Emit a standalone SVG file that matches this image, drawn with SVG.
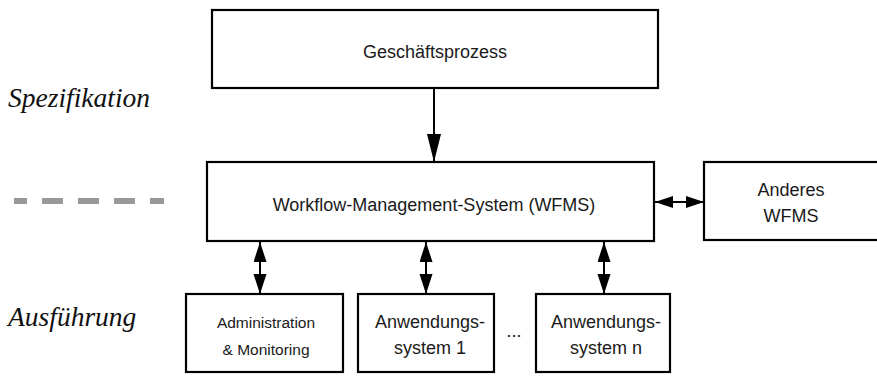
<svg xmlns="http://www.w3.org/2000/svg" width="877" height="377" viewBox="0 0 877 377">
<style>
.box{fill:#fff;stroke:#000;stroke-width:2.2}
.t{font-family:"Liberation Sans",Arial,sans-serif;font-size:18px;fill:#1a1a1a;text-anchor:middle}
.ts{font-size:15.5px}
.lbl{font-family:"Liberation Serif","Times New Roman",serif;font-style:italic;font-size:27.5px;fill:#111}
.c{stroke:#000;stroke-width:2;fill:none}
</style>
<defs>
<marker id="aBig" markerUnits="userSpaceOnUse" markerWidth="30" markerHeight="16" refX="28" refY="7" orient="auto"><path d="M0,0 L28,7 L0,14 z" fill="#000"/></marker>
<marker id="aMid" markerUnits="userSpaceOnUse" markerWidth="22" markerHeight="14" refX="20" refY="6.5" orient="auto-start-reverse"><path d="M0,0 L20,6.5 L0,13 z" fill="#000"/></marker>
<marker id="aSm" markerUnits="userSpaceOnUse" markerWidth="19" markerHeight="13" refX="18" refY="6" orient="auto-start-reverse"><path d="M0,0 L18,6 L0,12 z" fill="#000"/></marker>
</defs>
<rect width="877" height="377" fill="#fff"/>
<text class="lbl" x="8" y="107">Spezifikation</text>
<text class="lbl" x="8" y="326">Ausführung</text>
<line x1="14" y1="201" x2="164" y2="201" stroke="#999" stroke-width="6" stroke-dasharray="21 15" stroke-dashoffset="8"/>
<g id="connectors">
<line class="c" x1="434" y1="88" x2="434" y2="162" marker-end="url(#aBig)"/>
<line class="c" x1="655" y1="202" x2="704" y2="202" marker-start="url(#aSm)" marker-end="url(#aSm)"/>
<line class="c" x1="260" y1="242" x2="260" y2="294" marker-start="url(#aMid)" marker-end="url(#aMid)"/>
<line class="c" x1="426" y1="242" x2="426" y2="294" marker-start="url(#aMid)" marker-end="url(#aMid)"/>
<line class="c" x1="604" y1="242" x2="604" y2="294" marker-start="url(#aMid)" marker-end="url(#aMid)"/>
</g>
<g id="geschaeftsprozess">
<rect class="box" x="212" y="10" width="446" height="78"/>
<text class="t" x="435" y="58">Geschäftsprozess</text>
</g>
<g id="wfms">
<rect class="box" x="207" y="162" width="447" height="79"/>
<text class="t" x="434" y="211">Workflow-Management-System (WFMS)</text>
</g>
<g id="anderes-wfms">
<rect class="box" x="704" y="162" width="200" height="78"/>
<text class="t" x="791" y="196">Anderes</text>
<text class="t" x="791" y="222">WFMS</text>
</g>
<g id="admin">
<rect class="box" x="186" y="294" width="157" height="78"/>
<text class="t ts" x="266" y="328">Administration</text>
<text class="t ts" x="266" y="355">&amp; Monitoring</text>
</g>
<g id="anwendung1">
<rect class="box" x="358" y="294" width="136" height="78"/>
<text class="t" x="430" y="328">Anwendungs-</text>
<text class="t" x="430" y="354">system 1</text>
</g>
<text class="t" x="514" y="337">...</text>
<g id="anwendungn">
<rect class="box" x="536" y="294" width="134" height="78"/>
<text class="t" x="606" y="328">Anwendungs-</text>
<text class="t" x="606" y="354">system n</text>
</g>
</svg>
